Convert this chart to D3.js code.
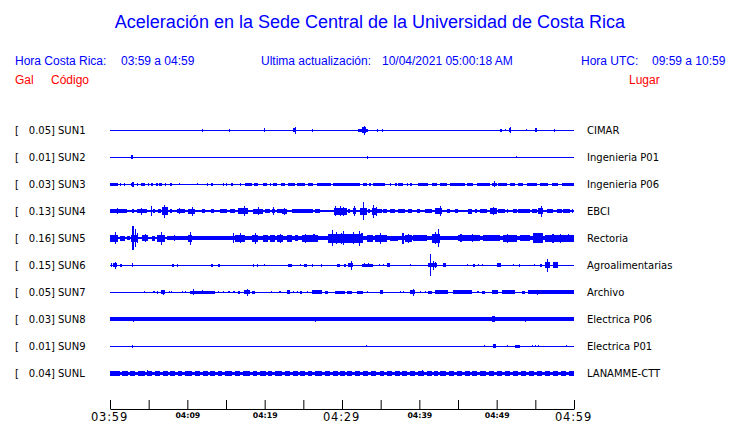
<!DOCTYPE html>
<html><head><meta charset="utf-8">
<script src="https://cdn.jsdelivr.net/npm/d3@7"></script>
<style>body{margin:0;background:#fff}svg{display:block}</style>
</head><body><svg id="c" width="740" height="423"></svg>
<script>
// ---------- data ----------
const titleText = "Aceleración en la Sede Central de la Universidad de Costa Rica";
const localLabel = "Hora Costa Rica:", localRange = "03:59 a 04:59";
const updLabel = "Ultima actualización:", updValue = "10/04/2021 05:00:18 AM";
const utcLabel = "Hora UTC:", utcRange = "09:59 a 10:59";
const colHeads = ["Gal", "Código", "Lugar"];

const stations = ["SUN1","SUN2","SUN3","SUN4","SUN5","SUN6","SUN7","SUN8","SUN9","SUNL"];
const peaks    = [0.05, 0.01, 0.03, 0.13, 0.16, 0.15, 0.05, 0.03, 0.01, 0.04];
const places   = ["CIMAR","Ingenieria P01","Ingenieria P06","EBCI","Rectoria","Agroalimentarias","Archivo","Electrica P06","Electrica P01","LANAMME-CTT"];
// background noise level (gal) per station
const noise    = [0.006, 0.006, 0.01, 0.015, 0.015, 0.009, 0.009, 0.025, 0.006, 0.023];

const startTime = "2021-04-10T03:59", endTime = "2021-04-10T04:59";
const tickTimes = ["03:59","04:04","04:09","04:14","04:19","04:24","04:29","04:34","04:39","04:44","04:49","04:54","04:59"];
const labeledTicks = ["03:59","04:09","04:19","04:29","04:39","04:49","04:59"];
const majorTicks = ["03:59","04:29","04:59"];

// bursts: [start minute, end minute, amplitude gal]
const sun1 = [[11.9,11.9,.02],[15.4,15.4,.02],[19.9,20.1,.025],[23.7,24.1,.03],[23.9,23.9,.045],[26.1,26.1,.02],[32.1,33.4,.02],[32.6,33.1,.04],[32.85,32.85,.06],[34.5,34.5,.02],[35.2,35.2,.02],[50.4,50.7,.02],[51.1,51.1,.015],[51.6,51.8,.03],[51.7,51.7,.04],[53.8,53.8,.012],[55.0,55.0,.03],[57.4,57.4,.02]];
const sun2 = [[2.7,2.95,.03],[33.2,33.2,.02],[52.5,52.5,.015]];
const sun3 = [[0,1.0,.02],[1.3,1.3,.022],[1.8,1.8,.02],[2.7,3.1,.022],[2.9,2.9,.035],[3.5,3.6,.02],[4.0,4.5,.02],[4.9,4.9,.02],[5.3,5.6,.02],[6.0,6.0,.02],[6.3,6.7,.02],[7.1,7.1,.02],[7.8,7.8,.02],[8.9,8.9,.015],[11.2,11.2,.015],[12.5,12.7,.02],[13.1,13.3,.02],[14.6,14.6,.02],[15.0,15.0,.02],[15.7,15.7,.02],[16.8,16.8,.02],[17.5,18.3,.02],[18.6,19.1,.02],[19.8,20.3,.02],[20.7,20.7,.02],[21.1,21.6,.02],[22.1,22.6,.02],[23.0,23.9,.02],[24.2,25.2,.02],[25.6,26.3,.02],[26.8,28.6,.02],[28.8,32.3,.02],[32.7,33.2,.02],[33.5,33.8,.02],[34.0,35.6,.02],[36.2,36.2,.02],[36.9,37.0,.02],[37.2,37.9,.02],[38.4,38.4,.02],[38.8,39.1,.02],[39.8,41.1,.02],[41.6,42.3,.02],[42.7,43.6,.02],[44.0,45.9,.02],[46.2,46.9,.02],[47.5,49.1,.02],[49.4,50.0,.022],[49.65,49.65,.04],[50.2,51.3,.02],[51.7,52.4,.02],[52.8,53.4,.02],[53.9,55.2,.02],[55.6,56.6,.02],[57.2,57.9,.02],[58.5,60,.02]];
const sun4 = [[0,2.2,.027],[0.9,0.9,.04],[2.85,3.1,.027],[3.5,4.8,.03],[4.0,4.0,.05],[5.3,5.3,.07],[5.6,5.8,.027],[6.2,6.6,.027],[6.7,7.5,.055],[7.0,7.0,.085],[7.8,8.0,.027],[8.7,9.7,.027],[8.9,8.9,.04],[10.1,11.0,.035],[10.6,10.6,.058],[11.9,12.3,.027],[13.1,13.4,.027],[14.2,15.1,.03],[15.5,16.2,.027],[16.6,17.8,.04],[17.3,17.3,.07],[18.5,19.8,.035],[19.1,19.1,.055],[20.0,20.7,.027],[20.9,21.3,.03],[21.1,21.1,.055],[21.6,22.2,.027],[22.2,22.9,.035],[22.5,22.5,.05],[23.5,26.3,.027],[26.5,27.2,.027],[29.0,30.6,.045],[29.1,29.1,.065],[29.7,29.7,.065],[30.1,30.1,.06],[30.8,31.0,.027],[31.4,31.8,.04],[31.55,31.55,.065],[32.3,33.2,.05],[32.7,32.7,.12],[33.4,33.6,.027],[33.9,34.5,.05],[34.0,34.0,.085],[34.4,34.4,.06],[34.5,35.2,.03],[35.3,35.8,.027],[36.2,36.9,.027],[37.2,38.1,.03],[38.5,39.1,.027],[39.7,40.1,.027],[40.7,41.6,.03],[42.0,42.9,.04],[42.7,42.7,.07],[43.6,44.0,.027],[44.6,45.0,.027],[46.3,46.8,.035],[47.2,47.5,.027],[47.8,48.8,.03],[49.1,50.0,.04],[49.5,49.5,.055],[50.2,51.1,.03],[51.3,51.3,.03],[52.1,52.6,.027],[52.8,54.3,.03],[54.6,55.2,.027],[55.3,56.0,.04],[55.7,55.7,.075],[56.5,57.3,.03],[57.8,58.5,.03],[58.6,59.5,.03],[59.7,59.9,.027]];
const sun5 = [[7.5,60,.025],[0,1.0,.045],[0.65,0.65,.08],[1.3,1.9,.035],[2.2,2.6,.03],[2.7,3.6,.05],[2.9,2.9,.16],[3.2,3.2,.12],[3.5,3.5,.07],[4.1,4.9,.04],[4.5,4.5,.055],[5.4,5.8,.035],[6.1,7.1,.05],[6.6,6.6,.088],[7.4,8.0,.03],[8.3,8.3,.04],[10.1,10.6,.045],[10.35,10.35,.085],[13.6,13.6,.03],[15.9,15.9,.07],[16.2,17.5,.045],[16.8,16.8,.07],[18.4,19.1,.05],[18.75,18.75,.075],[19.8,20.4,.045],[20.7,21.3,.045],[21.6,22.4,.045],[22.0,22.0,.06],[22.9,23.5,.045],[23.9,24.3,.04],[24.8,26.9,.045],[25.2,25.2,.06],[26.3,26.3,.055],[28.2,30.4,.06],[28.7,28.7,.108],[29.2,29.2,.08],[29.9,29.9,.075],[29.7,32.7,.06],[30.1,30.1,.095],[31.4,31.4,.08],[32.2,32.2,.1],[32.5,32.5,.07],[33.2,34.0,.045],[34.3,35.8,.05],[34.9,34.9,.075],[36.2,37.2,.035],[37.8,37.8,.075],[38.1,39.1,.045],[38.5,38.5,.06],[39.2,41.0,.04],[41.6,42.7,.06],[42.0,42.0,.08],[42.4,42.4,.12],[45.0,47.8,.04],[45.3,45.3,.055],[46.8,46.8,.055],[48.2,50.4,.04],[50.8,52.6,.05],[51.3,51.3,.06],[53.0,54.3,.04],[54.7,56.0,.065],[56.3,60,.045],[57.2,57.2,.06],[58.2,58.2,.06],[59.2,59.2,.055]];
const sun6 = [[0.1,0.1,.027],[0.4,0.9,.03],[0.65,0.65,.05],[1.3,1.6,.02],[2.85,2.85,.025],[8.0,8.3,.02],[8.7,8.7,.02],[13.1,13.1,.02],[14.0,14.2,.02],[18.5,18.5,.02],[19.0,19.0,.02],[19.9,19.9,.015],[23.0,23.5,.02],[24.6,24.6,.015],[25.1,25.5,.02],[26.1,26.1,.02],[27.3,27.3,.02],[29.4,29.7,.02],[30.3,30.3,.02],[30.8,31.4,.03],[31.2,31.2,.058],[32.6,34.0,.02],[32.8,32.8,.03],[33.4,33.4,.025],[34.8,34.8,.015],[35.3,35.3,.015],[35.8,36.2,.03],[38.8,38.8,.012],[41.1,42.3,.03],[41.4,41.4,.15],[41.8,41.8,.06],[42.0,42.0,.04],[43.1,43.5,.03],[46.2,46.2,.015],[46.9,47.2,.02],[47.6,47.6,.015],[48.1,48.1,.015],[50.0,50.6,.03],[52.1,52.1,.015],[52.9,52.9,.02],[54.8,54.8,.015],[55.6,55.9,.02],[56.3,56.9,.04],[56.5,56.5,.09],[57.3,57.9,.04]];
const sun7 = [[4.4,4.4,.015],[5.6,5.6,.015],[6.1,6.1,.02],[6.6,7.1,.025],[6.85,6.85,.035],[7.6,7.6,.015],[7.9,7.9,.015],[9.3,9.3,.015],[9.7,9.7,.015],[10.3,13.6,.022],[10.7,10.7,.04],[11.9,11.9,.03],[14.0,14.0,.015],[14.6,14.6,.015],[15.3,15.3,.015],[15.9,16.2,.015],[16.6,16.8,.02],[17.3,18.1,.03],[17.7,17.7,.05],[18.4,18.8,.02],[20.8,20.8,.015],[21.9,21.9,.015],[22.9,23.3,.025],[23.7,23.7,.015],[24.2,24.2,.015],[24.6,24.8,.02],[25.5,25.5,.015],[26.1,27.4,.025],[27.8,28.2,.02],[29.1,30.4,.02],[30.6,31.3,.02],[31.9,32.7,.02],[33.2,33.2,.015],[34.9,35.3,.025],[37.5,37.5,.015],[37.9,37.9,.015],[38.8,39.4,.03],[39.2,39.2,.05],[40.1,40.1,.015],[40.7,40.7,.015],[41.1,41.6,.02],[42.0,43.7,.025],[44.4,46.8,.025],[47.5,47.5,.015],[48.1,48.5,.02],[49.4,50.2,.025],[50.7,52.4,.025],[53.3,53.7,.02],[54.1,60,.025],[55.2,55.2,.035]];
const sun8 = [[3.0,3.0,.035],[26.5,26.5,.035],[31.6,31.6,.03],[39.8,39.8,.03],[40.3,40.3,.03],[49.4,49.8,.04],[50.7,50.7,.03],[52.6,52.6,.03],[53.7,53.7,.035],[57.5,57.5,.03],[59.1,59.1,.03]];
const sun9 = [[2.8,3.0,.02],[33.1,33.1,.015],[48.4,48.4,.015],[49.5,49.9,.025],[51.3,51.3,.015],[52.4,53.0,.02],[54.6,54.6,.015],[54.9,54.9,.015],[55.3,55.3,.015],[59.0,59.0,.015]];
const sunl = [[0,1.3,.032],[1.6,2.3,.032],[2.6,3.2,.032],[3.6,4.5,.032],[4.8,4.8,.042],[4.9,5.4,.032],[5.8,6.5,.032],[6.9,7.5,.032],[7.8,8.4,.032],[8.8,9.3,.032],[9.7,10.6,.032],[11.0,11.6,.032],[12.0,12.7,.032],[12.9,13.6,.032],[14.0,14.5,.032],[14.9,15.8,.032],[16.2,16.8,.032],[17.2,18.1,.032],[18.5,19.0,.032],[19.4,20.2,.032],[20.4,20.9,.032],[21.3,22.2,.032],[22.6,23.3,.032],[23.7,24.3,.032],[24.6,25.2,.032],[25.6,26.1,.032],[26.5,27.4,.032],[27.8,28.4,.032],[28.8,29.5,.032],[29.7,30.4,.032],[30.6,31.3,.032],[31.7,32.3,.032],[32.7,33.4,.032],[33.8,34.4,.032],[34.9,35.4,.032],[35.8,36.5,.032],[36.9,37.5,.032],[37.8,38.4,.032],[38.8,39.4,.032],[39.8,40.6,.032],[40.3,40.3,.042],[41.0,41.6,.032],[41.9,42.4,.032],[42.7,43.4,.032],[43.8,44.5,.032],[44.9,45.5,.032],[45.9,46.6,.032],[46.8,47.5,.032],[47.8,48.6,.032],[49.0,49.7,.032],[50.0,50.7,.032],[51.1,51.7,.032],[52.1,52.8,.032],[53.1,53.8,.032],[54.2,54.8,.032],[55.2,55.9,.032],[56.3,56.9,.032],[57.3,57.9,.032],[58.3,59.0,.032],[59.4,60,.032]];
const bursts = [sun1, sun2, sun3, sun4, sun5, sun6, sun7, sun8, sun9, sunl];

// ---------- drawing ----------
const svg = d3.select("#c");
const blue = "#0000ff", red = "#ff0000";
const sans = "'Liberation Sans', Arial, sans-serif";
const dvs = "'DejaVu Sans', sans-serif";

const t0 = new Date(startTime), t1 = new Date(endTime);
const x = d3.scaleTime().domain([t0, t1]).range([110, 574]);
const atMin = m => new Date(t0.getTime() + m * 60000);
const y = d3.scalePoint().domain(stations).range([130, 373]);
const amp = d3.scaleLinear().domain([0, 0.16]).range([0, 11.8]);

// header
svg.append("text").attr("x", 370).attr("y", 28).attr("text-anchor", "middle")
  .attr("font-family", sans).attr("font-size", 18).attr("fill", blue).text(titleText);
const hdr = [[15, localLabel], [121, localRange], [261, updLabel], [382, updValue], [581, utcLabel], [652, utcRange]];
svg.selectAll("text.hdr").data(hdr).join("text").attr("class", "hdr")
  .attr("x", d => d[0]).attr("y", 65).attr("font-family", sans).attr("font-size", 12)
  .attr("fill", blue).text(d => d[1]);
const heads = [[15, colHeads[0]], [51, colHeads[1]], [629, colHeads[2]]];
svg.selectAll("text.col").data(heads).join("text").attr("class", "col")
  .attr("x", d => d[0]).attr("y", 84).attr("font-family", sans).attr("font-size", 12)
  .attr("fill", red).text(d => d[1]);

// station rows
const rows = svg.selectAll("g.row").data(stations).join("g").attr("class", "row")
  .attr("transform", d => `translate(0,${y(d)})`);
rows.append("text").attr("x", 15).attr("y", 4).attr("font-family", dvs).attr("font-size", 10).text("[");
rows.append("text").attr("x", 55).attr("y", 4).attr("text-anchor", "end").attr("font-family", dvs)
  .attr("font-size", 10).text((d, i) => peaks[i].toFixed(2) + "]");
rows.append("text").attr("x", 58).attr("y", 4).attr("font-family", dvs).attr("font-size", 10).text(d => d);
rows.append("text").attr("x", 587).attr("y", 4).attr("font-family", dvs).attr("font-size", 10)
  .text((d, i) => places[i]);

function hgt(a) { return Math.max(1, Math.round(2 * amp(a))); }
rows.each(function (d, i) {
  const g = d3.select(this);
  const base = hgt(noise[i]);
  g.append("rect").attr("x", x(t0)).attr("width", x(t1) - x(t0))
    .attr("y", -base / 2).attr("height", base).attr("fill", blue).attr("shape-rendering", "crispEdges");
  g.selectAll("rect.b").data(bursts[i]).join("rect").attr("class", "b")
    .attr("x", b => x(atMin(b[0])))
    .attr("width", b => Math.max(1.2, x(atMin(b[1])) - x(atMin(b[0]))))
    .attr("y", b => -hgt(b[2]) / 2).attr("height", b => hgt(b[2]))
    .attr("fill", blue).attr("shape-rendering", "crispEdges");
});

// time axis
const parseHM = s => new Date(startTime.slice(0, 11) + s);
const axis = d3.axisBottom(x).tickValues(tickTimes.map(parseHM)).tickSize(-9).tickSizeOuter(0)
  .tickFormat(d => { const s = d3.timeFormat("%H:%M")(d); return labeledTicks.includes(s) ? s : ""; });
const ax = svg.append("g").attr("transform", "translate(0,409)").call(axis);
ax.select(".domain").attr("stroke", "#000");
ax.selectAll(".tick line").attr("stroke", "#000");
ax.selectAll(".tick text").each(function () {
  const t = d3.select(this), s = t.text();
  t.attr("dy", null).attr("fill", "#000").attr("font-family", dvs);
  if (majorTicks.includes(s)) t.attr("y", 12).attr("x", -1).attr("font-size", 11.5).attr("letter-spacing", 0.8);
  else t.attr("y", 9).attr("font-size", 7.8).attr("font-weight", "bold");
});
</script>
</body></html>
